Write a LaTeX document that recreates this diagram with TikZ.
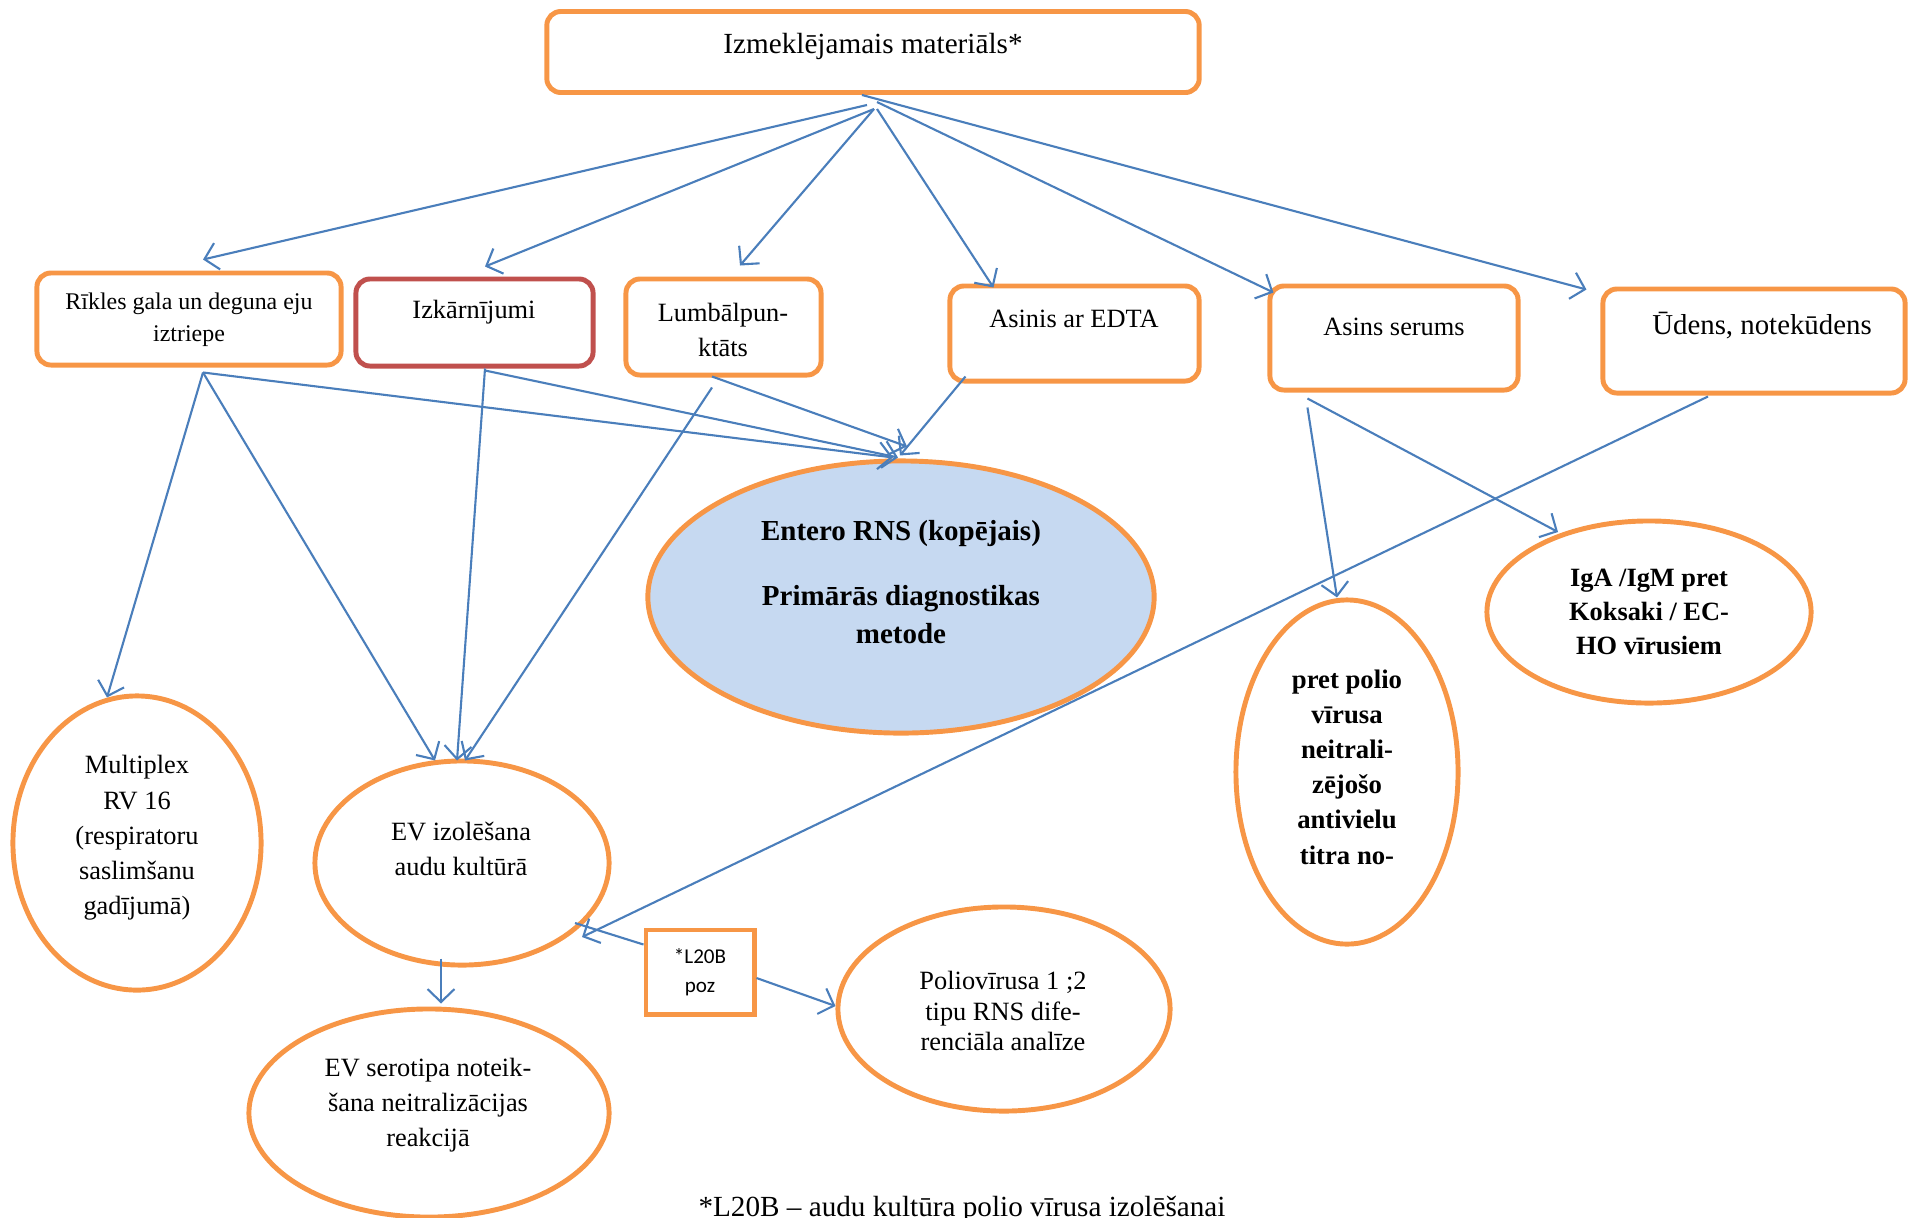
\documentclass[tikz,border=0pt]{standalone}
\usepackage{fontspec}
\setmainfont{Liberation Serif}
\newfontfamily\calfont{Carlito}
\usetikzlibrary{arrows.meta,shapes.geometric,calc}
\definecolor{orng}{HTML}{F79646}
\definecolor{redb}{HTML}{C0504D}
\definecolor{blu}{HTML}{4A7EBB}
\definecolor{fillb}{HTML}{C6D9F1}
\begin{document}
\begin{tikzpicture}[x=0.01cm,y=-0.01cm,
  rbox/.style={draw=orng, line width=1.4pt, rounded corners=0.14cm, rectangle, inner sep=0pt},
  sbox/.style={draw=orng, line width=1.4pt, rectangle, inner sep=0pt},
  ell/.style={draw=orng, line width=1.4pt, ellipse, inner sep=0pt},
  txt/.style={align=center, inner sep=0pt, font=\fontsize{7.5}{10}\selectfont},
  conn/.style={draw=blu, line width=0.6pt, -{Straight Barb[length=0.13cm,width=0.27cm]}},
  ln/.style={draw=blu, line width=0.6pt}]
\useasboundingbox (0,0) rectangle (1909,1217);

% shapes
\node[rbox, minimum width=6.52cm, minimum height=0.81cm] (top) at (873,52) {};
\node[rbox, minimum width=3.04cm, minimum height=0.92cm] (rik) at (189,319) {};
\node[rbox, draw=redb, minimum width=2.37cm, minimum height=0.87cm] (izk) at (474.5,322.5) {};
\node[rbox, minimum width=1.95cm, minimum height=0.96cm] (lum) at (723.5,327) {};
\node[rbox, minimum width=2.49cm, minimum height=0.95cm] (edta) at (1074.5,333.5) {};
\node[rbox, minimum width=2.48cm, minimum height=1.04cm] (ser) at (1394,338) {};
\node[rbox, minimum width=3.02cm, minimum height=1.04cm] (ude) at (1754,341) {};

\node[ell, fill=fillb, minimum width=5.06cm, minimum height=2.72cm] (ent) at (901,597) {};
\node[ell, minimum width=2.48cm, minimum height=2.94cm] (mul) at (137,843) {};
\node[ell, minimum width=2.94cm, minimum height=2.04cm] (evi) at (462,863) {};
\node[ell, minimum width=3.60cm, minimum height=2.08cm] (evs) at (429,1113) {};
\node[ell, minimum width=3.32cm, minimum height=2.04cm] (pol) at (1004,1009) {};
\node[ell, minimum width=2.22cm, minimum height=3.44cm] (pp) at (1347,772) {};
\node[ell, minimum width=3.24cm, minimum height=1.82cm] (iga) at (1649,612) {};
\node[sbox, minimum width=1.08cm, minimum height=0.84cm] (l20) at (700,972) {};

% texts
\node[txt, font=\fontsize{8.3}{10}\selectfont] (topT) at (873,46) {Izmeklējamais materiāls*};
\node[txt, font=\fontsize{6.8}{9.1}\selectfont] (rikT) at (189,320) {Rīkles gala un deguna eju\\iztriepe};
\node[txt] (izkT) at (474,312) {Izkārnījumi};
\node[txt] (lumT) at (723,330) {Lumbālpun-\\ktāts};
\node[txt] (edtaT) at (1074,319) {Asinis ar EDTA};
\node[txt] (serT) at (1394,327) {Asins serums};
\node[txt, font=\fontsize{8.2}{10}\selectfont] (udeT) at (1762,326) {Ūdens, notekūdens};
\node[txt, font=\bfseries\fontsize{8.25}{10.7}\selectfont] (entT) at (901,582) {Entero RNS (kopējais)\\[0.27cm]Primārās diagnostikas\\metode};
\node[txt] (mulT) at (137,838) {Multiplex\\RV 16\\(respiratoru\\saslimšanu\\gadījumā)};
\node[txt] (eviT) at (461,849) {EV izolēšana\\audu kultūrā};
\node[txt, font=\fontsize{7.5}{9.85}\selectfont] (evsT) at (428,1105) {EV serotipa noteik-\\šana neitralizācijas\\reakcijā};
\node[txt, font=\fontsize{7.5}{8.8}\selectfont] (polT) at (1003,1011) {Poliovīrusa 1 ;2\\tipu RNS dife-\\renciāla analīze};
\node[txt, font=\bfseries\fontsize{7.6}{10}\selectfont] (ppT) at (1347,767) {pret polio\\vīrusa\\neitrali-\\zējošo\\antivielu\\titra no-};
\node[txt, font=\bfseries\fontsize{7.5}{9.7}\selectfont] (igaT) at (1649,612) {IgA /IgM pret\\Koksaki / EC-\\HO vīrusiem};
\node[txt, font=\calfont\fontsize{6}{8.2}\selectfont] (l20T) at (700,972) {*L20B\\poz};
\node[inner sep=0pt, anchor=base, font=\fontsize{8.3}{10}\selectfont] (foot) at (962,1216) {*L20B – audu kultūra polio vīrusa izolēšanai};

% connectors from top box
\draw[conn] ($(top.south)+(-6,10)$) -- ($(rik.north)+(14,-11)$);
\draw[conn] ($(top.south)+(1,14)$) -- ($(izk.north)+(10.5,-10)$);
\draw[conn] ($(top.south)+(1,14)$) -- ($(lum.north)+(16.5,-11)$);
\draw[conn] ($(top.south)+(4,14)$) -- ($(edta.north west)+(46,4)$);
\draw[conn] ($(top.south)+(4,7)$) -- ($(ser.north west)+(6,9)$);
\draw[conn] ($(top.south)+(-11,0)$) -- ($(ude.north west)+(-14,3)$);

% to Entero
\draw[conn] ($(rik.south)+(14,5)$) -- ($(ent.north)+(-8,-1)$);
\draw[conn] ($(izk.south)+(10.5,2)$) -- ($(ent.north)+(-3,-1)$);
\draw[conn] ($(lum.south)+(-11.5,-1)$) -- ($(ent.north)+(6,-12)$);
\draw[conn] ($(edta.south west)+(18,-7)$) -- ($(ent.north)+(-1,-3)$);

% to EV izolesana
\draw[conn] ($(rik.south)+(14,5)$) -- ($(evi.north)+(-27,2)$);
\draw[conn] ($(izk.south)+(10.5,0)$) -- ($(evi.north)+(-5,2)$);
\draw[conn] ($(lum.south)+(-11.5,10)$) -- ($(evi.north)+(3,2)$);
\draw[conn] ($(ude.south)+(-46,1)$) -- ($(evi.center)+(120,74)$);

% others
\draw[conn] ($(rik.south)+(14,5)$) -- ($(mul.north)+(-30,4)$);
\draw[conn] ($(ser.south west)+(40,15)$) -- ($(pp.north)+(-10,0)$);
\draw[conn] ($(ser.south west)+(40,6)$) -- ($(iga.center)+(-91,-80)$);
\draw[conn] ($(evi.south)+(-21,-9)$) -- ($(evs.north)+(12,-3)$);
\draw[ln] ($(evi.center)+(113,60)$) -- ($(l20.north west)+(0,17)$);
\draw[conn] ($(l20.east)+(0,6)$) -- ($(pol.west)+(0,-3)$);
\end{tikzpicture}
\end{document}
